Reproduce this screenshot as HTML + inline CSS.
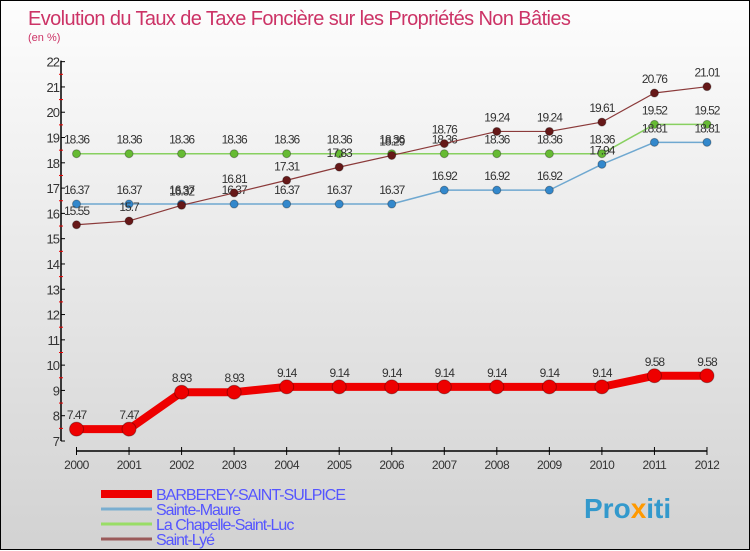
<!DOCTYPE html>
<html><head><meta charset="utf-8"><style>
body{margin:0;width:750px;height:550px;overflow:hidden;font-family:"Liberation Sans",sans-serif}
#wrap{position:relative;width:748px;height:548px;border:1px solid #000;background:linear-gradient(#fdfdfd,#d2d2d2)}
svg{position:absolute;left:0;top:0}
</style></head><body>
<div id="wrap">
<svg id="c" width="750" height="550">
<text x="27" y="24" font-size="20" fill="#cc3366" letter-spacing="-0.6">Evolution du Taux de Taxe Foncière sur les Propriétés Non Bâties</text>
<text x="27" y="40" font-size="11" fill="#cc3366">(en %)</text>
<text x="583" y="517" font-size="28" font-weight="bold" fill="#3399cc">Pro<tspan fill="#ff9900">x</tspan>iti</text>
</svg>
</div>
<script>
const years=[2000,2001,2002,2003,2004,2005,2006,2007,2008,2009,2010,2011,2012];
const seriesNames=["BARBEREY-SAINT-SULPICE","Sainte-Maure","La Chapelle-Saint-Luc","Saint-Lyé"];
const barberey=[7.47,7.47,8.93,8.93,9.14,9.14,9.14,9.14,9.14,9.14,9.14,9.58,9.58];
const sainteMaure=[16.37,16.37,16.37,16.37,16.37,16.37,16.37,16.92,16.92,16.92,17.94,18.81,18.81];
const laChapelle=[18.36,18.36,18.36,18.36,18.36,18.36,18.36,18.36,18.36,18.36,18.36,19.52,19.52];
const saintLye=[15.55,15.7,16.32,16.81,17.31,17.83,18.29,18.76,19.24,19.24,19.61,20.76,21.01];
const yTicks=[7,8,9,10,11,12,13,14,15,16,17,18,19,20,21,22];
const svg=document.getElementById('c');const NS="http://www.w3.org/2000/svg";
const X=i=>75.5+i*52.54;const Y=v=>440-(v-7)*25.29;
function mk(t,a,p){const e=document.createElementNS(NS,t);for(const k in a)e.setAttribute(k,a[k]);(p||svg).appendChild(e);return e;}
const ax=mk('g',{});


mk('line',{x1:60,y1:Y(22)-1,x2:60,y2:Y(7),stroke:'#000','stroke-width':1.5},ax);
mk('line',{x1:X(0),y1:450,x2:X(12),y2:450,stroke:'#000','stroke-width':1.5},ax);
yTicks.forEach(v=>{mk('line',{x1:60,y1:Y(v),x2:64,y2:Y(v),stroke:'#000'},ax);
 if(v<22)mk('line',{x1:58,y1:Y(v+0.5),x2:62,y2:Y(v+0.5),stroke:'#e00'},ax);
 const t=mk('text',{x:58,y:Y(v)+5,'font-size':13,'text-anchor':'end',fill:'#333','letter-spacing':'-1'},ax);t.textContent=v;
 
 });
years.forEach((y,i)=>{mk('line',{x1:X(i),y1:446,x2:X(i),y2:454,stroke:'#000'},ax);
 const t=mk('text',{x:X(i),y:468,'font-size':12,'text-anchor':'middle',fill:'#333','letter-spacing':'-0.5'},ax);t.textContent=y;
 
 });
function series(data,color,dot,w,r,name){
 const g=mk('g',{});
 
 
 mk('polyline',{points:data.map((v,i)=>X(i)+','+Y(v)).join(' '),fill:'none',stroke:color,'stroke-width':w,'stroke-linejoin':'round'},g);
 data.forEach((v,i)=>{const c=mk('circle',{cx:X(i),cy:Y(v),r:r,fill:dot,stroke:'rgba(0,0,0,0.3)'},g);
  
  
  const t=mk('text',{x:X(i),y:Y(v)-10,'font-size':12,'text-anchor':'middle',fill:'#333','letter-spacing':'-1'},g);t.textContent=v;
  
  });
}
series(laChapelle,'#88d060','#66bb33',1.5,4,'series-la-chapelle');
series(sainteMaure,'#6fa8d0','#3388cc',1.5,4,'series-sainte-maure');
series(saintLye,'#8b3a3a','#661818',1.2,4,'series-saint-lye');
series(barberey,'#ee0000','#ee0000',8,7,'series-barberey');
const lc=['#ee0000','#7aaed0','#99dd66','#9a5a5a'],lw=[8,3,3,3];
seriesNames.forEach((n,i)=>{const g=mk('g',{});
 
 
 const y=493+i*15;mk('line',{x1:100,y1:y,x2:151,y2:y,stroke:lc[i],'stroke-width':lw[i]},g);
 const t=mk('text',{x:155,y:y+6,'font-size':16,fill:'#5555ff','letter-spacing':'-1'},g);t.textContent=n;});
</script>
</body></html>
